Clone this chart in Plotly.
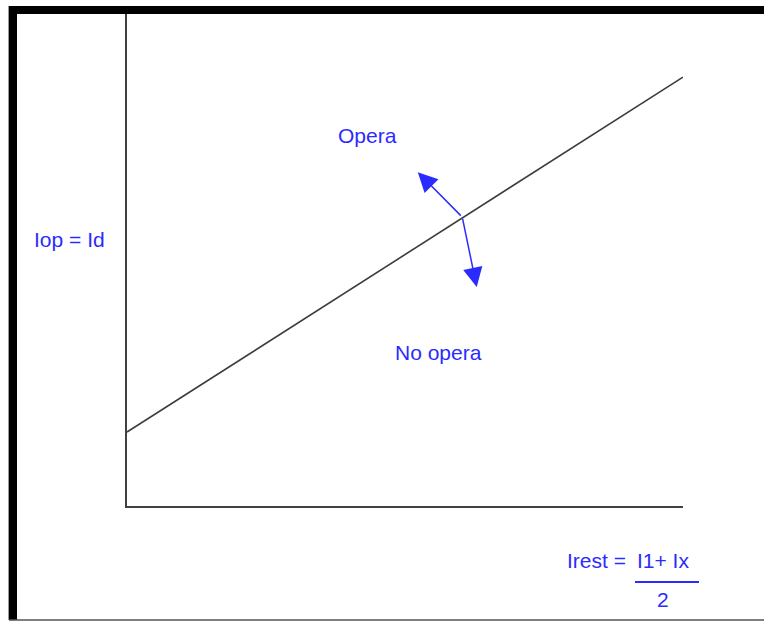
import plotly.graph_objects as go

# --- data (chart units) ---
line_x = [0, 10]
line_y = [1.5, 8.7]
arrow_origin_x = 6.03
arrow_origin_y = 5.86
arrow_tip_x = [5.23, 6.29]
arrow_tip_y = [6.77, 4.44]
region_labels = ["Opera", "No opera"]
region_x = [4.33, 5.61]
region_y = [7.51, 3.12]
y_title = "Iop = Id"
x_title_left = "Irest ="
x_title_num = "I1+ Ix"
x_title_den = "2"

W, H = 764, 622
FONT = "Liberation Sans Narrow, Arial Narrow, Liberation Sans, Arial, sans-serif"
BLUE = "#2b2bff"

def px(x):
    return x / W

def py(y):
    return (H - y) / H

fig = go.Figure()
fig.add_trace(go.Scatter(x=line_x, y=line_y, mode="lines",
                         line=dict(color="#3c3c3c", width=1.6),
                         hoverinfo="skip", showlegend=False))

annotations = []
for tx, ty in zip(arrow_tip_x, arrow_tip_y):
    annotations.append(dict(x=tx, y=ty, ax=arrow_origin_x, ay=arrow_origin_y,
                            xref="x", yref="y", axref="x", ayref="y",
                            text="", showarrow=True, arrowhead=2, arrowsize=2.6,
                            arrowwidth=1.5, arrowcolor=BLUE, standoff=0))
for t, x, y in zip(region_labels, region_x, region_y):
    annotations.append(dict(x=x, y=y, xref="x", yref="y", text=t, showarrow=False,
                            xanchor="center", yanchor="middle",
                            font=dict(family=FONT, size=21, color=BLUE)))

def paper_text(t, x, y, size=21):
    return dict(x=px(x), y=py(y), xref="paper", yref="paper", text=t, showarrow=False,
                xanchor="center", yanchor="middle",
                font=dict(family=FONT, size=size, color=BLUE))

annotations.append(paper_text(y_title, 69, 239))
annotations.append(paper_text(x_title_left, 596, 560))
annotations.append(paper_text(x_title_num, 663, 560))
annotations.append(paper_text(x_title_den, 663, 599))

shapes = [
    # fraction bar
    dict(type="line", xref="paper", yref="paper", x0=px(635), x1=px(699), y0=py(582), y1=py(582),
         line=dict(color=BLUE, width=2)),
    # frame
    dict(type="rect", xref="paper", yref="paper", x0=px(9), x1=px(17), y0=py(620), y1=py(6),
         fillcolor="black", line=dict(width=0)),
    dict(type="rect", xref="paper", yref="paper", x0=px(9), x1=px(764), y0=py(14), y1=py(6),
         fillcolor="black", line=dict(width=0)),
    dict(type="line", xref="paper", yref="paper", x0=px(9), x1=px(764), y0=py(620), y1=py(620),
         line=dict(color="#555555", width=1.5)),
    dict(type="line", xref="paper", yref="paper", x0=px(8.5), x1=px(8.5), y0=py(620), y1=py(6),
         line=dict(color="#999999", width=1)),
]

fig.update_layout(
    width=W, height=H, margin=dict(l=0, r=0, t=0, b=0),
    paper_bgcolor="white", plot_bgcolor="white",
    showlegend=False,
    xaxis=dict(domain=[px(127), px(683)], range=[0, 10], showline=True, linecolor="#404040",
               linewidth=2, showgrid=False, zeroline=False, showticklabels=False, ticks=""),
    yaxis=dict(domain=[py(506), py(13)], range=[0, 10], showline=True, linecolor="#404040",
               linewidth=2, showgrid=False, zeroline=False, showticklabels=False, ticks=""),
    annotations=annotations, shapes=shapes,
)

fig.write_html("out.html", config={"displayModeBar": False},
               post_script="document.body.style.margin='0px';document.body.style.overflow='hidden';")
